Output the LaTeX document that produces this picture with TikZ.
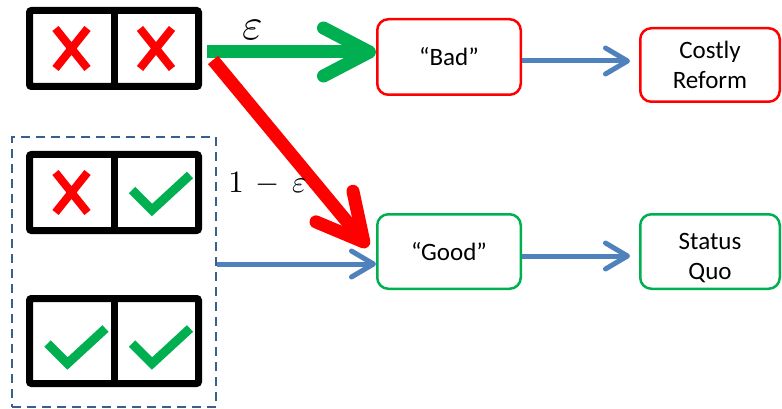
\documentclass[tikz,border=0pt]{standalone}
\usepackage[no-math]{fontspec}
\setmainfont{Carlito}
\usetikzlibrary{arrows.meta,calc}
\definecolor{myred}{HTML}{FF0000}
\definecolor{mygreen}{HTML}{00B050}
\definecolor{myblue}{HTML}{4F81BD}
\definecolor{dashblue}{HTML}{3A5F8F}
\begin{document}
\begin{tikzpicture}[x=1pt,y=-1pt,
  pairbox/.style={draw=black,line width=7pt,rounded corners=2pt,minimum width=169pt,minimum height=76pt,inner sep=0pt},
  statebox/.style={draw,line width=2.5pt,rounded corners=11pt,align=center,font=\fontsize{25}{30}\selectfont,inner sep=0pt},
  redbox/.style={statebox,draw=myred},
  greenbox/.style={statebox,draw=mygreen},
  crossmark/.pic={\draw[myred,line width=8pt] (-16,-20)--(16,20) (-16,20)--(16,-20);},
  checkmark/.pic={\draw[mygreen,line width=9pt,miter limit=10] (-24,-2.5)--(-4,17.5)--(34,-17.5);},
  bluearrow/.style={draw=myblue,line width=5pt,-{Straight Barb[length=22pt,width=26pt,round]}},
  bigarrow/.style={line width=13pt,-{Straight Barb[length=46pt,width=48pt,round]}}
]
\useasboundingbox (0,0) rectangle (782,409);

% group of good pairs
\node[draw=dashblue,line width=2.5pt,dash pattern=on 9pt off 6pt,minimum width=204pt,minimum height=270pt,inner sep=0pt] (grp) at (114,272) {};

% pair boxes
\node[pairbox] (pA) at (114,48.5) {};
\node[pairbox] (pB) at (114,192.5) {};
\node[pairbox,minimum height=85pt] (pC) at (114,341) {};
\foreach \p in {pA,pB,pC}{\draw[line width=7pt] (\p.north) -- (\p.south);}
\pic at ($(pA.center)+(-42.5,0)$) {crossmark};
\pic at ($(pA.center)+(42,0)$) {crossmark};
\pic at ($(pB.center)+(-42.5,0)$) {crossmark};
\pic at ($(pB.center)+(42,0)$) {checkmark};
\pic at ($(pC.center)+(-42.5,5)$) {checkmark};
\pic at ($(pC.center)+(42,5)$) {checkmark};

% state boxes
\node[redbox,minimum width=143.5pt,minimum height=75.5pt] (bad) at (449,57) {“Bad”};
\node[redbox,minimum width=139.5pt,minimum height=73.5pt] (costly) at (710,65) {Costly\\Reform};
\node[greenbox,minimum width=143.5pt,minimum height=74.5pt] (good) at (449,251.5) {“Good”};
\node[greenbox,minimum width=139.5pt,minimum height=74.5pt] (status) at (710,251.5)
  {\raisebox{-7pt}[\height][\depth]{\begin{tabular}{@{}c@{}}Status\\Quo\end{tabular}}};

% probability arrows
\draw[bigarrow,mygreen] ([xshift=5pt,yshift=-3.5pt]pA.east) -- ([yshift=5pt]bad.west);
\draw[bigarrow,myred] ([xshift=11pt,yshift=-11.5pt]pA.east) -- ([xshift=-8pt,yshift=4.5pt]good.west);
\node[anchor=base,inner sep=0pt] (eps) at (252.5,40) {\scalebox{4.4}{$\varepsilon$}};
\node[anchor=base,inner sep=0pt] (omeps) at (267.5,193) {\scalebox{3.1}{$1\,-\,\varepsilon$}};

% blue arrows
\coordinate (gin) at ([yshift=-12.5pt]good.west);
\draw[bluearrow] (gin -| grp.east) -- (gin);
\coordinate (bout) at ([yshift=-4pt]bad.east);
\draw[bluearrow,shorten >=9pt] (bout) -- (bout -| costly.west);
\coordinate (gout) at ([yshift=-4.5pt]good.east);
\draw[bluearrow,shorten >=9pt] (gout) -- (gout -| status.west);
\end{tikzpicture}
\end{document}
